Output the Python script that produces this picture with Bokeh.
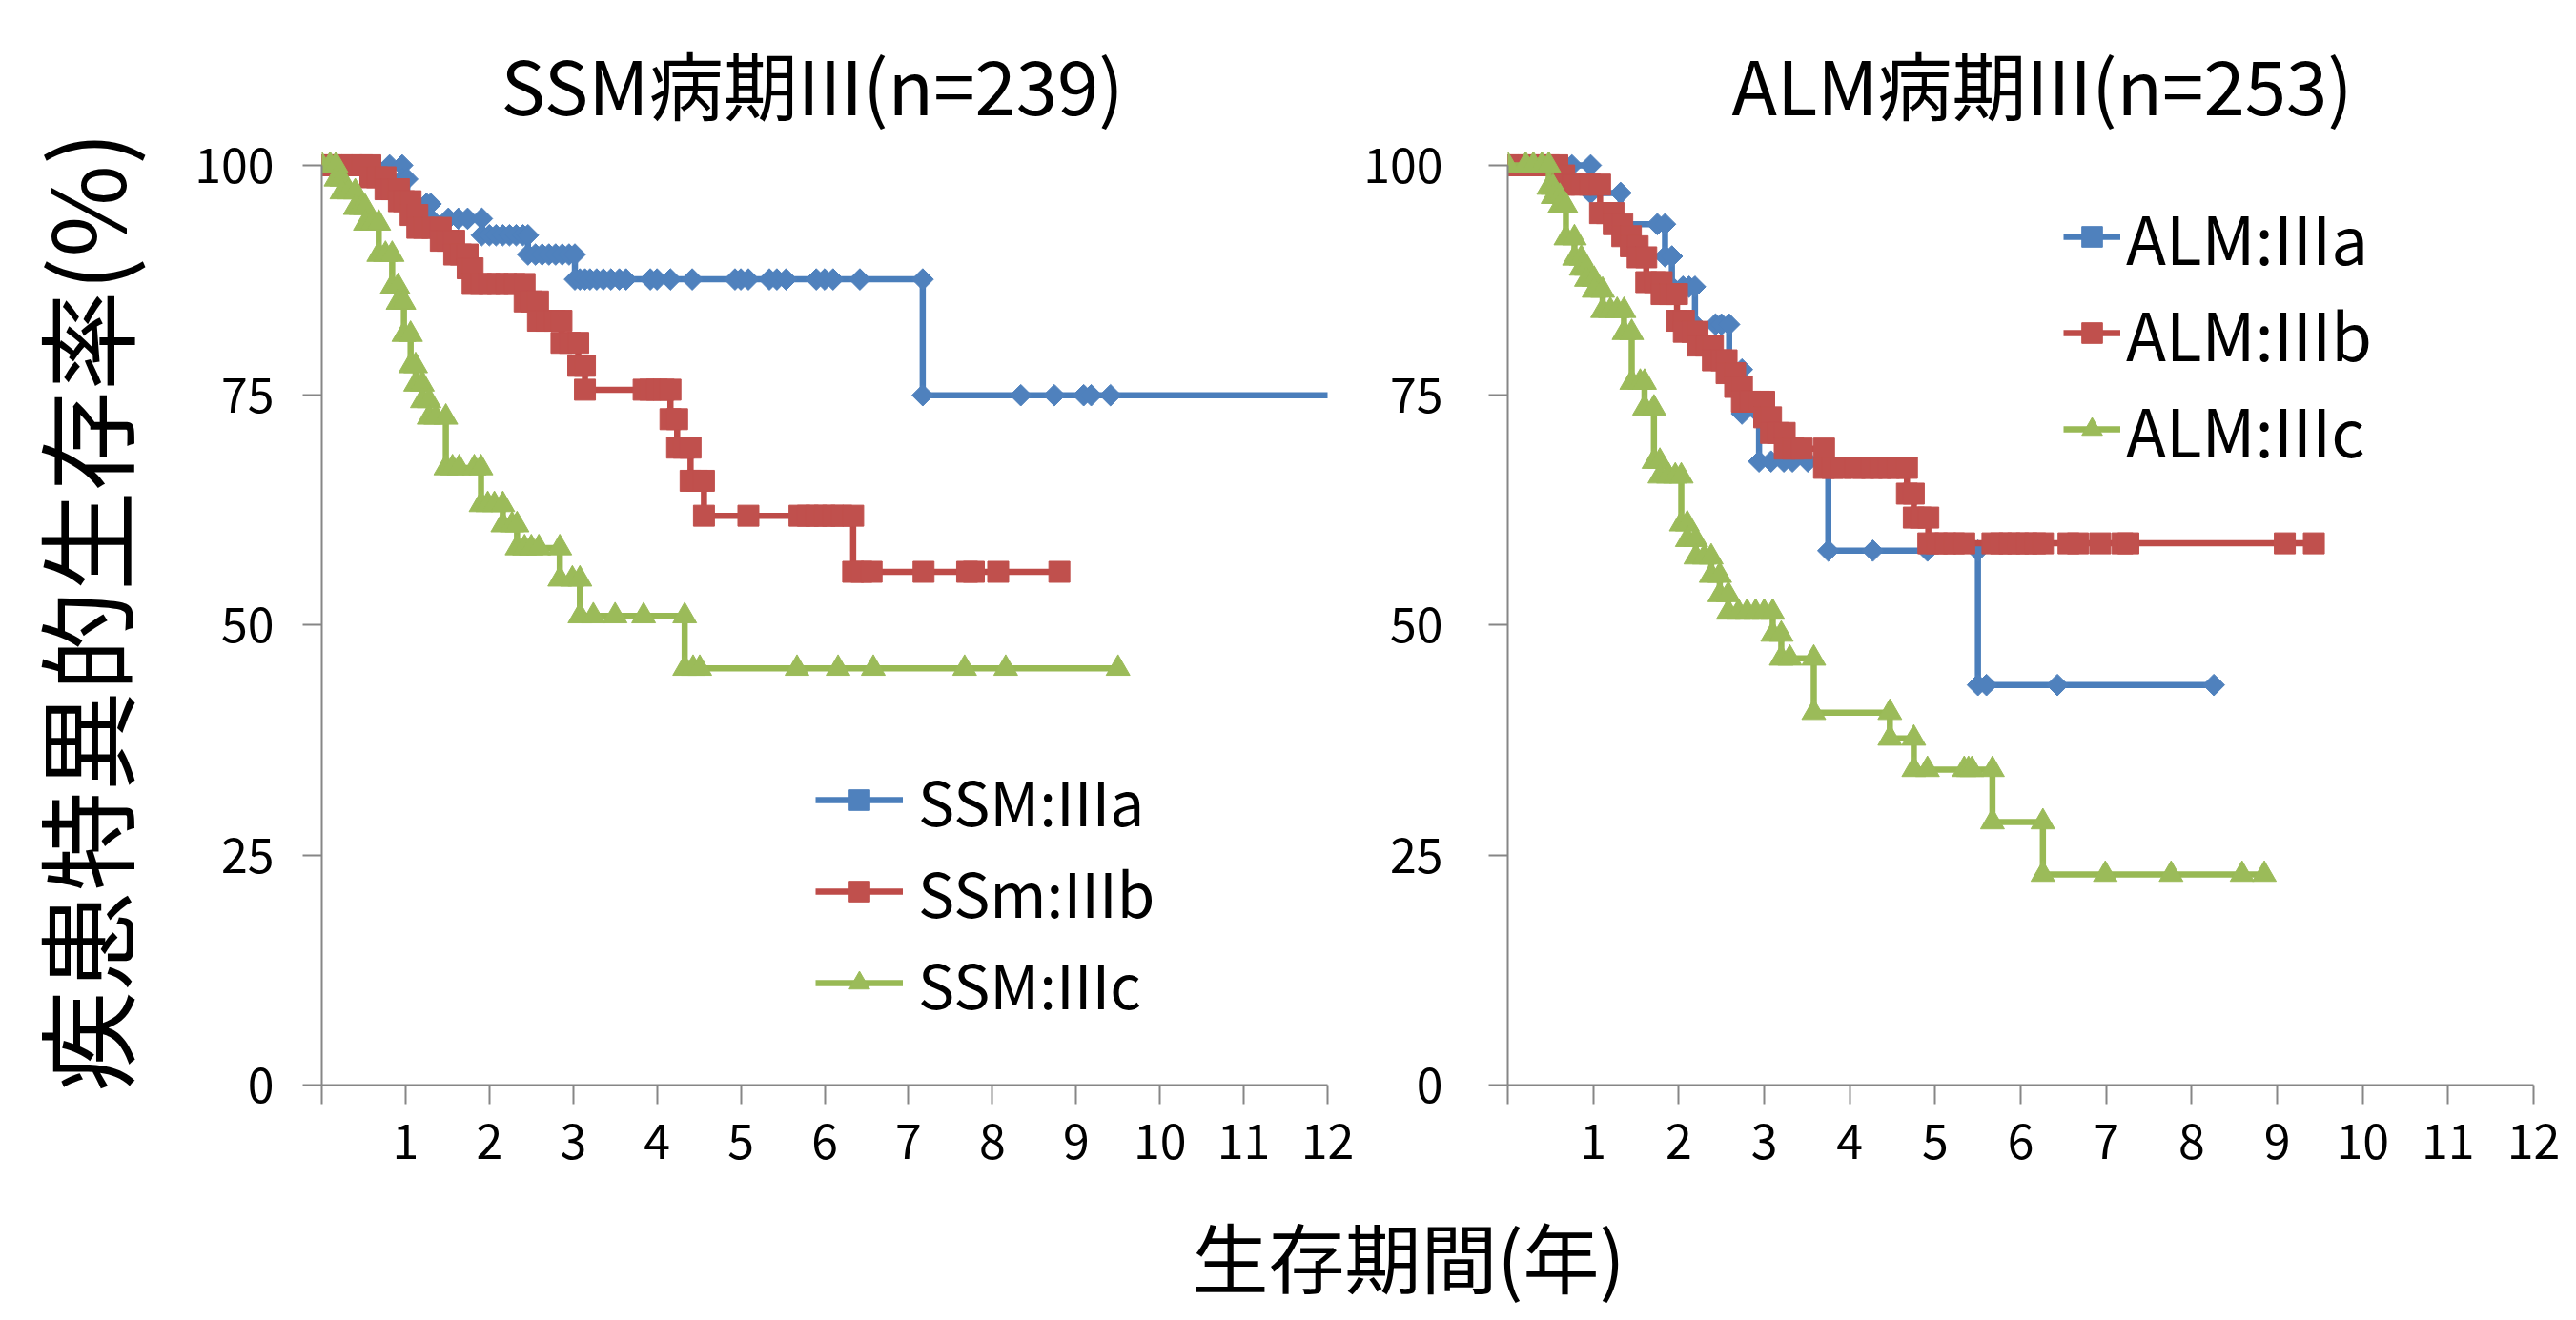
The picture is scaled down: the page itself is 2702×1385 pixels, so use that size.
import numpy as np
from bokeh.plotting import figure
from bokeh.models import (ColumnDataSource, Legend, LegendItem, FixedTicker,
                          Range1d, Label, LinearAxis)
from bokeh.layouts import column, row
from bokeh.embed import file_html
from bokeh.resources import INLINE

FONT = "Noto Sans CJK JP"

# ---------------- data (years, survival %) ----------------
# Each curve: survival levels and, for each level, the time points on it
ssm_a_levels = [100, 98.5, 95.8, 94.2, 92.4, 90.3, 87.6, 75.0]
ssm_a_times = [
    [0, 0.81, 0.96],
    [0.96, 1.02],
    [1.02, 1.25, 1.30],
    [1.30, 1.51, 1.63, 1.74, 1.91],
    [1.91, 2.00, 2.08, 2.16, 2.24, 2.32, 2.40, 2.46],
    [2.46, 2.55, 2.63, 2.71, 2.79, 2.87, 2.95, 3.02],
    [3.02, 3.08, 3.14, 3.20, 3.28, 3.36, 3.45, 3.55, 3.63, 3.92, 4.00, 4.16,
     4.42, 4.93, 5.00, 5.09, 5.34, 5.43, 5.54, 5.90, 6.00, 6.10, 6.42, 7.17],
    [7.17, 8.34, 8.74, 9.09, 9.18, 9.41, 12.5],
]

ssm_b_levels = [100, 98.7, 97.4, 96.1, 94.6, 93.2, 91.8, 90.3, 88.8, 87.1, 85.2,
                83.1, 80.7, 78.2, 75.6, 72.4, 69.3, 65.7, 61.9, 55.8]
ssm_b_times = [
    [0, 0.12, 0.24, 0.36, 0.48, 0.58],
    [0.58, 0.66, 0.76],
    [0.76, 0.84, 0.92],
    [0.92, 0.98, 1.06],
    [1.06, 1.14],
    [1.14, 1.22, 1.32, 1.42],
    [1.42, 1.50, 1.58],
    [1.58, 1.66, 1.74],
    [1.74, 1.80],
    [1.80, 1.90, 2.00, 2.10, 2.20, 2.30, 2.42],
    [2.42, 2.50, 2.58],
    [2.58, 2.68, 2.78, 2.86],
    [2.86, 2.96, 3.06],
    [3.06, 3.14],
    [3.14, 3.84, 3.92, 4.00, 4.08, 4.16],
    [4.16, 4.24],
    [4.24, 4.32, 4.40],
    [4.40, 4.48, 4.56],
    [4.56, 5.09, 5.70, 5.80, 5.90, 6.00, 6.10, 6.20, 6.34],
    [6.34, 6.44, 6.56, 7.18, 7.70, 7.78, 8.07, 8.80],
]

ssm_c_levels = [100, 98.5, 97.1, 95.4, 93.7, 90.3, 86.8, 85.1, 81.6, 78.2, 76.2,
                74.4, 72.6, 67.1, 63.1, 60.9, 58.4, 55.0, 51.0, 45.3]
ssm_c_times = [
    [0, 0.10, 0.17],
    [0.17, 0.24],
    [0.24, 0.32, 0.40],
    [0.40, 0.47, 0.52],
    [0.52, 0.60, 0.68],
    [0.68, 0.76, 0.84],
    [0.84, 0.91],
    [0.91, 0.98],
    [0.98, 1.06],
    [1.06, 1.12],
    [1.12, 1.20],
    [1.20, 1.28],
    [1.28, 1.36, 1.48],
    [1.48, 1.56, 1.64, 1.82, 1.90],
    [1.90, 1.98, 2.06, 2.16],
    [2.16, 2.27, 2.33],
    [2.33, 2.42, 2.50, 2.59, 2.84],
    [2.84, 2.99, 3.08],
    [3.08, 3.24, 3.50, 3.84, 4.33],
    [4.33, 4.43, 4.51, 5.67, 6.16, 6.58, 7.67, 8.16, 9.50],
]

alm_a_levels = [100, 97.0, 93.6, 90.1, 86.8, 82.7, 77.8, 73.0, 67.8, 58.1, 43.5]
alm_a_times = [
    [0, 0.75, 0.97],
    [0.97, 1.32],
    [1.32, 1.75, 1.84],
    [1.84, 1.92],
    [1.92, 2.05, 2.12, 2.19],
    [2.19, 2.43, 2.50, 2.59],
    [2.59, 2.74],
    [2.74, 2.94],
    [2.94, 3.08, 3.23, 3.33, 3.51, 3.67, 3.75],
    [3.75, 4.27, 4.91, 5.50],
    [5.50, 5.60, 6.43, 8.26],
]

alm_b_levels = [100, 98.9, 97.9, 94.8, 93.6, 92.3, 91.2, 90.0, 87.3, 86.0, 83.1,
                81.9, 80.4, 78.8, 77.4, 75.9, 74.3, 72.6, 70.9, 69.2, 67.1, 64.3,
                61.7, 58.9]
alm_b_times = [
    [0, 0.12, 0.24, 0.36, 0.48, 0.58],
    [0.58, 0.66],
    [0.66, 0.76, 0.86, 0.96, 1.08],
    [1.08, 1.16, 1.24],
    [1.24, 1.34],
    [1.34, 1.44],
    [1.44, 1.52],
    [1.52, 1.62],
    [1.62, 1.72, 1.80],
    [1.80, 1.90, 1.98],
    [1.98, 2.06],
    [2.06, 2.16, 2.22],
    [2.22, 2.32, 2.40],
    [2.40, 2.50, 2.56],
    [2.56, 2.66],
    [2.66, 2.74],
    [2.74, 2.84, 2.94, 3.00],
    [3.00, 3.08],
    [3.08, 3.16, 3.24],
    [3.24, 3.34, 3.44, 3.70],
    [3.70, 3.80, 3.90, 4.06, 4.16, 4.26, 4.36, 4.46, 4.56, 4.67],
    [4.67, 4.75],
    [4.75, 4.83, 4.92],
    [4.92, 5.02, 5.12, 5.22, 5.34, 5.67, 5.77, 5.87, 5.97, 6.07, 6.17, 6.26,
     6.56, 6.67, 6.93, 7.19, 7.26, 9.09, 9.43],
]

alm_c_levels = [100, 97.6, 96.6, 95.6, 92.1, 89.9, 88.8, 87.6, 86.4, 84.2, 81.8,
                76.4, 73.6, 67.8, 66.2, 61.0, 59.3, 57.4, 55.4, 53.3, 51.4, 49.0,
                46.4, 40.5, 37.7, 34.3, 28.6, 22.9]
alm_c_times = [
    [0, 0.21, 0.30, 0.40, 0.48],
    [0.48, 0.53],
    [0.53, 0.61],
    [0.61, 0.68],
    [0.68, 0.78],
    [0.78, 0.86],
    [0.86, 0.92],
    [0.92, 1.01],
    [1.01, 1.11],
    [1.11, 1.20, 1.28, 1.36],
    [1.36, 1.45],
    [1.45, 1.55, 1.60],
    [1.60, 1.71],
    [1.71, 1.78],
    [1.78, 1.88, 1.96, 2.03],
    [2.03, 2.10],
    [2.10, 2.20],
    [2.20, 2.30, 2.38],
    [2.38, 2.48],
    [2.48, 2.58],
    [2.58, 2.70, 2.80, 2.90, 3.00, 3.10],
    [3.10, 3.20],
    [3.20, 3.30, 3.58],
    [3.58, 4.47],
    [4.47, 4.75],
    [4.75, 4.91, 5.34, 5.39, 5.43, 5.67],
    [5.67, 6.26],
    [6.26, 6.99, 7.76, 8.59, 8.85],
]

x_ticks = list(range(0, 13))
y_ticks = [0, 25, 50, 75, 100]

titles = ["SSM病期III(n=239)", "ALM病期III(n=253)"]
ssm_labels = ["SSM:IIIa", "SSm:IIIb", "SSM:IIIc"]
alm_labels = ["ALM:IIIa", "ALM:IIIb", "ALM:IIIc"]
y_title = "疾患特異的生存率(%)"
x_title = "生存期間(年)"

# ---------------- styling ----------------
LINE_COLORS = ["#4A7EBB", "#BE4B48", "#98B954"]
FILL_COLORS = ["#4F81BD", "#C0504D", "#9BBB59"]
MARKERS = [("square", np.pi / 4, 16), ("square", 0, 22), ("triangle", 0, 25)]
AXIS_GRAY = "#868686"

TOP = 144          # space above the frame
FRAME_H = 994      # frame height (0..103)
H1 = 1252          # height of the two chart canvases
TOTAL_H = 1376
TICK_SIZE = 50     # tick label font size (px)
XT_SIZE = 80       # x-axis title font size (px)


def build(levels, times):
    xs, ys = [], []
    for lv, ts in zip(levels, times):
        for t in ts:
            xs.append(t)
            ys.append(lv)
    return xs, ys


def make_legend(items, loc, fs, gw, ls, sp):
    return Legend(items=items, location=loc, orientation="vertical",
                  background_fill_alpha=0, border_line_alpha=0,
                  label_text_font=FONT, label_text_font_size=fs,
                  label_text_color="black",
                  glyph_width=gw, glyph_height=54,
                  label_standoff=ls, spacing=sp,
                  padding=0, margin=0, label_height=54)


def panel(title, curves, labels, width, bl, br, title_offset, ystandoff):
    p = figure(width=width, height=H1, x_range=Range1d(0, 12),
               y_range=Range1d(0, 103), output_backend="svg",
               toolbar_location=None, min_border_left=bl, min_border_right=br,
               min_border_top=TOP, min_border_bottom=H1 - TOP - FRAME_H,
               title=title)
    p.outline_line_color = None
    p.background_fill_color = "white"
    p.border_fill_color = "white"
    p.grid.visible = False

    p.title.text_font = FONT
    p.title.text_font_size = "78px"
    p.title.text_font_style = "normal"
    p.title.text_color = "black"
    p.title.align = "left"
    p.title.offset = title_offset
    p.title.standoff = 4

    p.xaxis.ticker = FixedTicker(ticks=x_ticks)
    p.xaxis.major_label_overrides = {0: ""}
    p.yaxis.ticker = FixedTicker(ticks=y_ticks)
    p.yaxis.bounds = (0, 100)
    for ax in [p.xaxis[0], p.yaxis[0]]:
        ax.axis_label = None
        ax.axis_label_standoff = 0
        ax.axis_line_color = AXIS_GRAY
        ax.axis_line_width = 2
        ax.major_tick_line_color = AXIS_GRAY
        ax.major_tick_line_width = 2
        ax.major_tick_in = 0
        ax.major_tick_out = 20
        ax.minor_tick_line_color = None
        ax.major_label_text_font = FONT
        ax.major_label_text_font_size = f"{TICK_SIZE}px"
        ax.major_label_text_color = "black"
    p.xaxis.major_label_standoff = 20
    p.yaxis.major_label_standoff = ystandoff

    items = []
    for (levels, times), lab, lc, fc, (mk, ang, sz) in zip(
            curves, labels, LINE_COLORS, FILL_COLORS, MARKERS):
        xs, ys = build(levels, times)
        src = ColumnDataSource(dict(t=xs, s=ys))
        lr = p.line("t", "s", source=src, line_color=lc, line_width=6.5)
        sr = p.scatter("t", "s", source=src, marker=mk, angle=ang, size=sz,
                       fill_color=fc, line_color=fc, line_width=1)
        items.append(LegendItem(label=lab, renderers=[lr, sr]))
    return p, items


p1, items1 = panel(titles[0],
                   [(ssm_a_levels, ssm_a_times), (ssm_b_levels, ssm_b_times),
                    (ssm_c_levels, ssm_c_times)],
                   ssm_labels, 1422, 337, 30, 188, 30)
p1.add_layout(make_legend(items1, (518, 61), "64px", 92, 16, 4))

# separate outer axis that carries only the y-axis title
ytitle_axis = LinearAxis(axis_label=y_title, ticker=FixedTicker(ticks=[]))
ytitle_axis.axis_line_color = None
ytitle_axis.major_tick_line_color = None
ytitle_axis.minor_tick_line_color = None
ytitle_axis.major_tick_out = 0
ytitle_axis.major_label_standoff = 0
ytitle_axis.axis_label_text_font = FONT
ytitle_axis.axis_label_text_font_size = "105px"
ytitle_axis.axis_label_text_font_style = "normal"
ytitle_axis.axis_label_text_color = "black"
ytitle_axis.axis_label_standoff = 40
p1.add_layout(ytitle_axis, "left")

p2, items2 = panel(titles[1],
                   [(alm_a_levels, alm_a_times), (alm_b_levels, alm_b_times),
                    (alm_c_levels, alm_c_times)],
                   alm_labels, 1264, 159, 29, 235, 48)
# right-hand legend: one entry per box so the rows sit tightly together
for item, ly in zip(items2, [840, 739, 638]):
    p2.add_layout(make_legend([item], (583, ly), "69px", 60, 6, 0))

# footer with the shared x-axis title
FOOT_H = TOTAL_H - H1
anchor_from_top = 0.78 * XT_SIZE + 1.0
p3 = figure(width=2686, height=FOOT_H, x_range=Range1d(0, 2686),
            y_range=Range1d(0, FOOT_H), output_backend="svg",
            toolbar_location=None, min_border=0)
p3.outline_line_color = None
p3.grid.visible = False
p3.axis.visible = False
p3.add_layout(Label(x=1477, y=FOOT_H - anchor_from_top, text=x_title,
                    text_font=FONT, text_font_size=f"{XT_SIZE}px",
                    text_align="center", text_baseline="middle",
                    text_color="black"))

layout = column(row(p1, p2), p3)
open("out.html", "w").write(file_html(layout, INLINE))
